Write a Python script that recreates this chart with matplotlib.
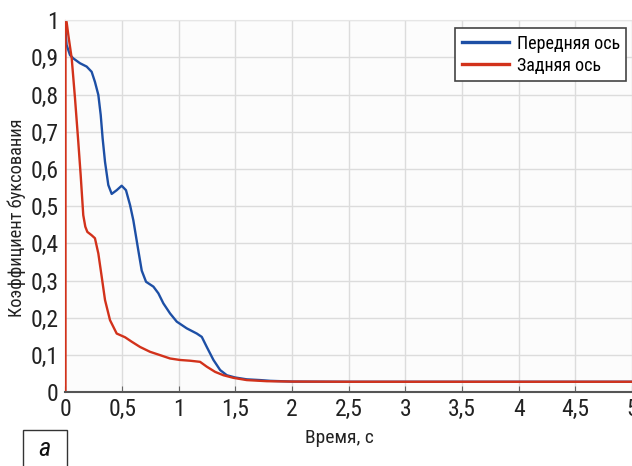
import matplotlib.pyplot as plt
import matplotlib.patches as patches
from matplotlib import font_manager

# --- data ---
t_front = [0.0, 0.01, 0.04, 0.069, 0.128, 0.187, 0.231, 0.26, 0.29, 0.311, 0.328,
           0.349, 0.378, 0.408, 0.452, 0.496, 0.534, 0.57, 0.599, 0.643, 0.673,
           0.711, 0.776, 0.82, 0.864, 0.923, 0.982, 1.07, 1.159, 1.203, 1.247,
           1.306, 1.365, 1.424, 1.497, 1.6, 1.718, 1.806, 2.0, 2.5, 5.0]
k_front = [0.973, 0.933, 0.906, 0.897, 0.884, 0.875, 0.861, 0.834, 0.799, 0.745, 0.682,
           0.619, 0.557, 0.533, 0.543, 0.555, 0.543, 0.503, 0.462, 0.381, 0.327,
           0.297, 0.284, 0.266, 0.239, 0.212, 0.19, 0.172, 0.158, 0.149, 0.122,
           0.087, 0.06, 0.046, 0.04, 0.035, 0.033, 0.031, 0.029, 0.0285, 0.0285]

t_rear = [0.0, 0.0, 0.01, 0.025, 0.055, 0.084, 0.113, 0.134, 0.157, 0.175, 0.193,
          0.231, 0.26, 0.29, 0.32, 0.349, 0.393, 0.452, 0.526, 0.585, 0.658,
          0.746, 0.835, 0.923, 1.011, 1.1, 1.188, 1.247, 1.321, 1.394, 1.482,
          1.6, 1.777, 2.0, 2.5, 5.0]
k_rear = [0.0, 1.0, 0.995, 0.96, 0.897, 0.79, 0.673, 0.584, 0.476, 0.445, 0.431,
          0.422, 0.414, 0.373, 0.31, 0.248, 0.194, 0.158, 0.148, 0.136, 0.122,
          0.109, 0.1, 0.091, 0.087, 0.085, 0.082, 0.069, 0.055, 0.046, 0.039,
          0.033, 0.03, 0.029, 0.0285, 0.0285]

x_ticks = [0, 0.5, 1, 1.5, 2, 2.5, 3, 3.5, 4, 4.5, 5]
y_ticks = [0, 0.1, 0.2, 0.3, 0.4, 0.5, 0.6, 0.7, 0.8, 0.9, 1]

names = {f.name for f in font_manager.fontManager.ttflist}
fam = 'DejaVu Sans'
for cand in ['Roboto Condensed', 'Liberation Sans Narrow', 'Roboto']:
    if cand in names:
        fam = cand
        break
plt.rcParams['font.family'] = [fam, 'DejaVu Sans']


def fmt(v):
    return f'{v:g}'.replace('.', ',')


fig = plt.figure(figsize=(6.32, 4.66), dpi=100)
ax = fig.add_axes([0.1036, 0.158, 0.8964, 0.799])
ax.set_facecolor('#fcfcfc')

ax.plot(t_front, k_front, color='#1d4fa5', lw=1.7, label='Передняя ось')
ax.plot(t_rear, k_rear, color='#d2321b', lw=1.7, label='Задняя ось')

ax.set_xlim(0, 5)
ax.set_ylim(0, 1)
ax.set_xticks(x_ticks)
ax.set_yticks(y_ticks)
ax.set_xticklabels([fmt(v) for v in x_ticks])
ax.set_yticklabels([fmt(v) for v in y_ticks])
ax.tick_params(labelsize=17, colors='#222222', direction='in', length=4)
ax.tick_params(axis='x', colors='#666666', labelcolor='#222222', pad=4)
ax.tick_params(axis='y', length=0, pad=5)
ax.grid(color='#dcdcdc', lw=1)
ax.set_axisbelow(True)

ax.spines['right'].set_visible(False)
ax.spines['top'].set_color('#e6e6e6')
ax.spines['left'].set_color('#d2321b')
ax.spines['bottom'].set_color('#555555')
ax.spines['bottom'].set_linewidth(1.5)

ax.set_xlabel('Время, с', fontsize=14, color='#222222')
ax.xaxis.set_label_coords(0.483, -0.098)
ax.set_ylabel('Коэффициент буксования', fontsize=13.2, color='#222222')
ax.yaxis.set_label_coords(-0.07, 0.468)

leg = ax.legend(loc='upper right', bbox_to_anchor=(0.99, 0.978),
                prop={'size': 13},
                frameon=True, fancybox=False, handlelength=2.6, borderpad=0.35,
                labelspacing=0.22, handletextpad=0.45, borderaxespad=0)
leg.get_frame().set_edgecolor('#444444')
leg.get_frame().set_linewidth(1.2)
leg.get_frame().set_facecolor('white')
leg.get_frame().set_alpha(1)
for line in leg.get_lines():
    line.set_linewidth(2.4)

# panel letter box
fig.patches.append(patches.Rectangle((23 / 632, -0.01), 44 / 632, 41 / 466,
                                     transform=fig.transFigure, fill=False,
                                     edgecolor='#333333', lw=1.0))
fig.text(44 / 632, 17 / 466, 'а', fontsize=19, style='italic', ha='center',
         va='center', color='#111111')

fig.savefig('out.png', dpi=100)
